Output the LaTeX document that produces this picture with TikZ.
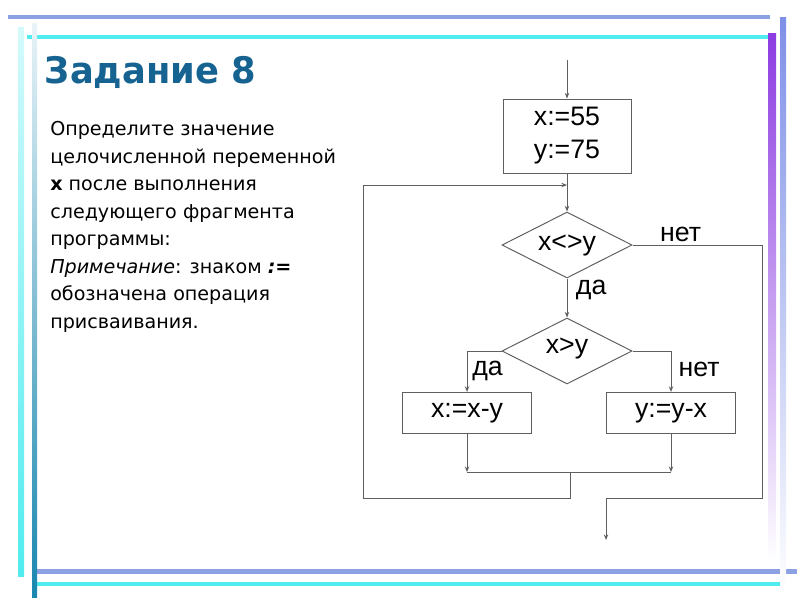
\documentclass[tikz,border=0pt]{standalone}
\usepackage{fontspec}
\setmainfont{DejaVu Sans}
\newfontfamily\chartfont{Liberation Sans}
\usetikzlibrary{positioning,arrows.meta,shapes.geometric}
\definecolor{titleblue}{RGB}{22,98,145}
\definecolor{barblue}{RGB}{140,160,228}
\definecolor{barcyan}{RGB}{80,236,240}
\definecolor{barpurple}{RGB}{140,60,225}
\definecolor{barteal}{RGB}{25,135,175}
\definecolor{linegray}{RGB}{95,95,95}

\begin{document}
\begin{tikzpicture}[x=0.025cm, y=-0.025cm,
  >={Stealth[length=1.4mm,width=1.1mm]},
  proc/.style={rectangle, draw=linegray, line width=0.7pt, align=center,
               font=\chartfont\fontsize{19}{23.5}\selectfont, inner sep=0pt},
  cond/.style={diamond, draw=linegray, line width=0.7pt, inner sep=0pt,
               minimum width=3.25cm, minimum height=1.65cm},
  e/.style={->, line width=0.7pt, draw=linegray},
  l/.style={line width=0.7pt, draw=linegray},
  lbl/.style={font=\chartfont\fontsize{19}{20}\selectfont, inner sep=0pt},
]
\useasboundingbox (0,0) rectangle (800,600);
% frame bars
\fill[barblue] (8,15) rectangle (770,19);
\fill[barcyan] (27,35) rectangle (770,39);
\fill[barblue] (35,569) rectangle (797,574);
\fill[barcyan] (35,582) rectangle (780,586);
\shade[top color=barpurple, bottom color=white] (768,33) rectangle (776,562);
\shade[top color=barblue!90!blue, bottom color=white] (780,17) rectangle (786,592);
\shade[top color=barcyan!25, bottom color=barcyan] (18,27) rectangle (24,576);
\shade[top color=barteal!10, bottom color=barteal] (32,23) rectangle (37,597);

% task text
\node[anchor=west, font=\bfseries\fontsize{26}{30}\selectfont, text=titleblue] (title) at (40,72)
  {\scalebox{0.965}[1]{Задание 8}};
\node[anchor=north west, align=left, inner sep=0pt,
      font=\fontsize{13.6}{19.6}\selectfont] (task) at (50,121)
  {Определите значение\\
   целочисленной переменной\\
   \textbf{x} после выполнения\\
   следующего фрагмента\\
   программы:\\
   \textit{Примечание}: знаком \textbf{\textit{:=}}\\
   обозначена операция\\
   присваивания.};

% flowchart
\coordinate (in) at (567,60);
\node[proc, minimum width=3.2cm, minimum height=1.85cm] (init) at (567,136) {x:=55\\y:=75};
\node[cond, label={[lbl]center:x<>y}] (loop) at (567,245) {};
\node[cond, label={[lbl, yshift=2pt]center:x>y}] (cmp) at (567,351) {};
\node[proc, minimum width=3.22cm, minimum height=1.03cm] (subx) at (467,413) {x:=x-y};
\node[proc, minimum width=3.22cm, minimum height=1.03cm] (suby) at (671,413) {y:=y-x};
\coordinate (back) at (567,185);
\coordinate (join) at (570,472);
\coordinate (out)  at (606,540);

\draw[e] (in) -- (init);
\draw[e] (init) -- (loop);
\draw[e] (loop) -- (cmp) node[lbl, pos=0.3, right=6pt] {да};
\draw[e] (cmp.west) -| (subx) node[lbl, pos=0.75, right=3.5pt] {да};
\draw[e] (cmp.east) -| (suby) node[lbl, pos=0.72, right=5pt] {нет};
\draw[e] (subx) -- (subx |- join);
\draw[e] (suby) -- (suby |- join);
\draw[l] (subx |- join) -- (suby |- join);
% back to the loop test
\draw[e] (join) -- ++(0,26) -| (363,185) -- (back);
% exit
\draw[e] (loop.east) node[lbl, anchor=south west, xshift=0.68cm, yshift=2pt] {нет}
  -| (762,498) -| (out);
\end{tikzpicture}
\end{document}
